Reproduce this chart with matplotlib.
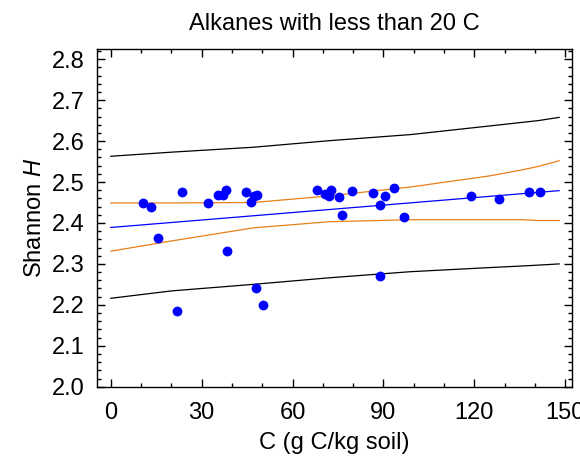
import matplotlib
matplotlib.use("Agg")
import matplotlib.pyplot as plt
from matplotlib.ticker import MultipleLocator

# ==========================
# Data
# ==========================
carbon = [10.7, 13.4, 15.6, 23.5, 21.9, 32.1, 35.5, 37.1, 38.0, 38.2, 44.5,
          47.3, 48.2, 46.4, 47.9, 50.2, 68.0, 70.7, 72.6, 72.1, 75.4, 76.2,
          79.7, 86.7, 89.0, 90.5, 93.5, 96.8, 89.0, 118.9, 128.2, 138.0, 141.6]
shannon = [2.450, 2.438, 2.364, 2.475, 2.186, 2.450, 2.468, 2.468, 2.480,
           2.332, 2.475, 2.467, 2.468, 2.452, 2.240, 2.200, 2.480, 2.470,
           2.480, 2.467, 2.464, 2.420, 2.478, 2.474, 2.445, 2.466, 2.485,
           2.414, 2.270, 2.466, 2.458, 2.476, 2.476]

# fitted line (end points)
fit_x = [0, 148]
fit_y = [2.389, 2.479]

# confidence / prediction bands sampled along x
band_x = [0, 20, 47, 72, 99, 125, 136, 141, 148]
conf_upper = [2.449, 2.449, 2.450, 2.466, 2.488, 2.515, 2.530, 2.538, 2.552]
conf_lower = [2.331, 2.356, 2.388, 2.403, 2.408, 2.408, 2.408, 2.406, 2.406]
pred_upper = [2.563, 2.573, 2.585, 2.601, 2.616, 2.637, 2.646, 2.650, 2.658]
pred_lower = [2.216, 2.234, 2.250, 2.266, 2.281, 2.291, 2.295, 2.297, 2.300]

# ==========================
# Style
# ==========================
plt.rcParams["font.family"] = ["Liberation Sans", "DejaVu Sans"]
plt.rcParams["mathtext.fontset"] = "custom"
plt.rcParams["mathtext.it"] = "Liberation Sans:italic"
plt.rcParams["mathtext.rm"] = "Liberation Sans"

fig = plt.figure(figsize=(5.8, 4.62), dpi=100)
ax = fig.add_axes([0.167, 0.163, 0.819, 0.730])

ax.plot(band_x, pred_upper, color="black", lw=0.9)
ax.plot(band_x, pred_lower, color="black", lw=0.9)
ax.plot(band_x, conf_upper, color="#E8801A", lw=0.9)
ax.plot(band_x, conf_lower, color="#E8801A", lw=0.9)
ax.plot(fit_x, fit_y, color="#0000FF", lw=0.9)
ax.scatter(carbon, shannon, s=50, color="#0000FF", zorder=3, linewidths=0)

ax.set_xlim(-4.6, 152.2)
ax.set_ylim(2.0, 2.824)
ax.xaxis.set_major_locator(MultipleLocator(30))
ax.xaxis.set_minor_locator(MultipleLocator(10))
ax.yaxis.set_major_locator(MultipleLocator(0.1))
ax.yaxis.set_minor_locator(MultipleLocator(0.02))
ax.yaxis.set_major_formatter(plt.FormatStrFormatter("%.1f"))

ax.tick_params(which="both", direction="in", top=True, right=True,
               labelsize=17, width=1)
ax.tick_params(which="major", length=6)
ax.tick_params(which="minor", length=3)
ax.tick_params(axis="x", which="major", pad=11)
ax.tick_params(axis="y", which="major", pad=9)
for s in ax.spines.values():
    s.set_linewidth(1)

ax.set_title("Alkanes with less than 20 C", fontsize=17, pad=14)
ax.set_xlabel("C (g C/kg soil)", fontsize=17, labelpad=6)
ax.set_ylabel("Shannon $\\it{H}$", fontsize=17, labelpad=4)

plt.savefig("out.png", dpi=100)
